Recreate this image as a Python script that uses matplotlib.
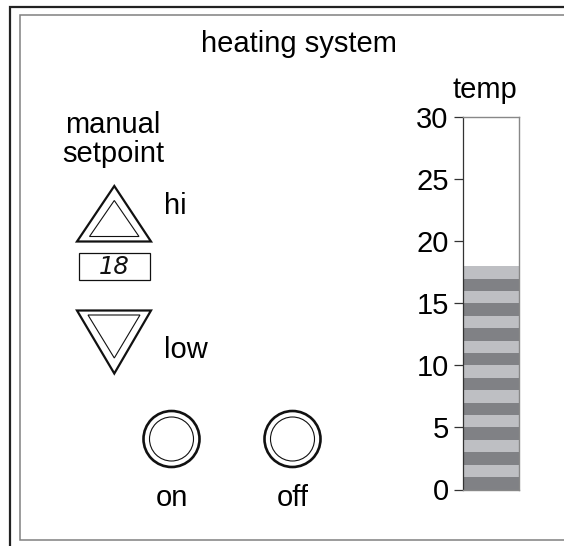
"""
Heating system control panel: manual setpoint display, on/off buttons and a
striped thermometer bar showing the current temperature.
"""

import matplotlib
matplotlib.use("Agg")
import matplotlib.pyplot as plt
from matplotlib.patches import Circle, Polygon, Rectangle

# ---- data -------------------------------------------------------------
setpoint = 18                      # value shown in the display
current_temp = 18                  # height of the thermometer fill
temp_ticks = [0, 5, 10, 15, 20, 25, 30]
temp_max = 30
stripe_colors = ["#808185", "#bebfc3"]   # alternating 1-degree bands
button_labels = ["on", "off"]

FONT = "Liberation Sans"
FS = 21
plt.rcParams["font.family"] = [FONT, "DejaVu Sans"]

W, H = 564, 546
fig = plt.figure(figsize=(W / 100, H / 100), dpi=100)

# base axes in pixel coordinates (y grows downwards)
ax = fig.add_axes([0, 0, 1, 1])
ax.set_xlim(0, W)
ax.set_ylim(H, 0)
ax.axis("off")

# panel frames (panel continues past the right/bottom of the picture)
ax.plot([10, 10, W + 5], [H + 5, 7, 7], color="#222222", lw=1.6,
        solid_joinstyle="miter")
ax.plot([W + 5, 19.5, 19.5, W + 5], [15, 15, 539.5, 539.5], color="#808080",
        lw=1.1, solid_joinstyle="miter")

ax.text(298.5, 51.5, "heating system", ha="center", va="baseline", fontsize=FS)

# manual setpoint block
ax.text(113, 133, "manual", ha="center", va="baseline", fontsize=FS)
ax.text(113.5, 161.5, "setpoint", ha="center", va="baseline", fontsize=FS)

ax.add_patch(Polygon([(114.3, 186), (77, 241.5), (151, 241.5)], closed=True,
                     fill=False, ec="#111111", lw=1.6, joinstyle="miter"))
ax.add_patch(Polygon([(114.3, 200.5), (89.5, 236.5), (139, 236.5)], closed=True,
                     fill=False, ec="#111111", lw=0.8, joinstyle="miter"))
ax.text(164, 214, "hi", ha="left", va="baseline", fontsize=FS)

ax.add_patch(Rectangle((78.5, 252.5), 71.5, 27, fill=False, ec="#111111", lw=0.9))
ax.text(114.5, 267, f"{setpoint}", ha="center", va="center", fontsize=17.5,
        family="DejaVu Sans", style="italic", color="#111111")

ax.add_patch(Polygon([(77, 310.5), (151, 310.5), (114.3, 373.5)], closed=True,
                     fill=False, ec="#111111", lw=1.6, joinstyle="miter"))
ax.add_patch(Polygon([(88, 315), (140, 315), (114.3, 358)], closed=True,
                     fill=False, ec="#111111", lw=0.8, joinstyle="miter"))
ax.text(164, 358, "low", ha="left", va="baseline", fontsize=FS)

# on / off buttons
for cx, label in zip([171.5, 292.5], button_labels):
    ax.add_patch(Circle((cx, 439), 28, fill=False, ec="#111111", lw=1.9))
    ax.add_patch(Circle((cx, 439), 22, fill=False, ec="#111111", lw=0.8))
    ax.text(cx, 506.5, label, ha="center", va="baseline", fontsize=FS)

# thermometer
x0, x1, y_top, y_bot = 462.7, 519.3, 117.3, 489.5
tax = fig.add_axes([x0 / W, 1 - y_bot / H, (x1 - x0) / W, (y_bot - y_top) / H])
tax.set_xlim(-0.5, 0.5)
tax.set_ylim(0, temp_max)
for i in range(current_temp):
    tax.bar(0, 1, bottom=i, width=1, color=stripe_colors[i % 2], lw=0)
tax.set_xticks([])
tax.set_yticks(temp_ticks)
tax.set_yticklabels([str(t) for t in temp_ticks], fontsize=FS)
tax.tick_params(axis="y", direction="out", length=6.8, width=0.9,
                color="#333333", pad=3.3)
for side in ["top", "right", "bottom"]:
    tax.spines[side].set_color("#888888")
    tax.spines[side].set_linewidth(1.0)
tax.spines["left"].set_color("#333333")
tax.spines["left"].set_linewidth(0.9)
tax.text(485, 98, "temp", transform=ax.transData, ha="center", va="baseline",
         fontsize=FS)
tax.set_zorder(2)

fig.savefig("out.png", dpi=100)
